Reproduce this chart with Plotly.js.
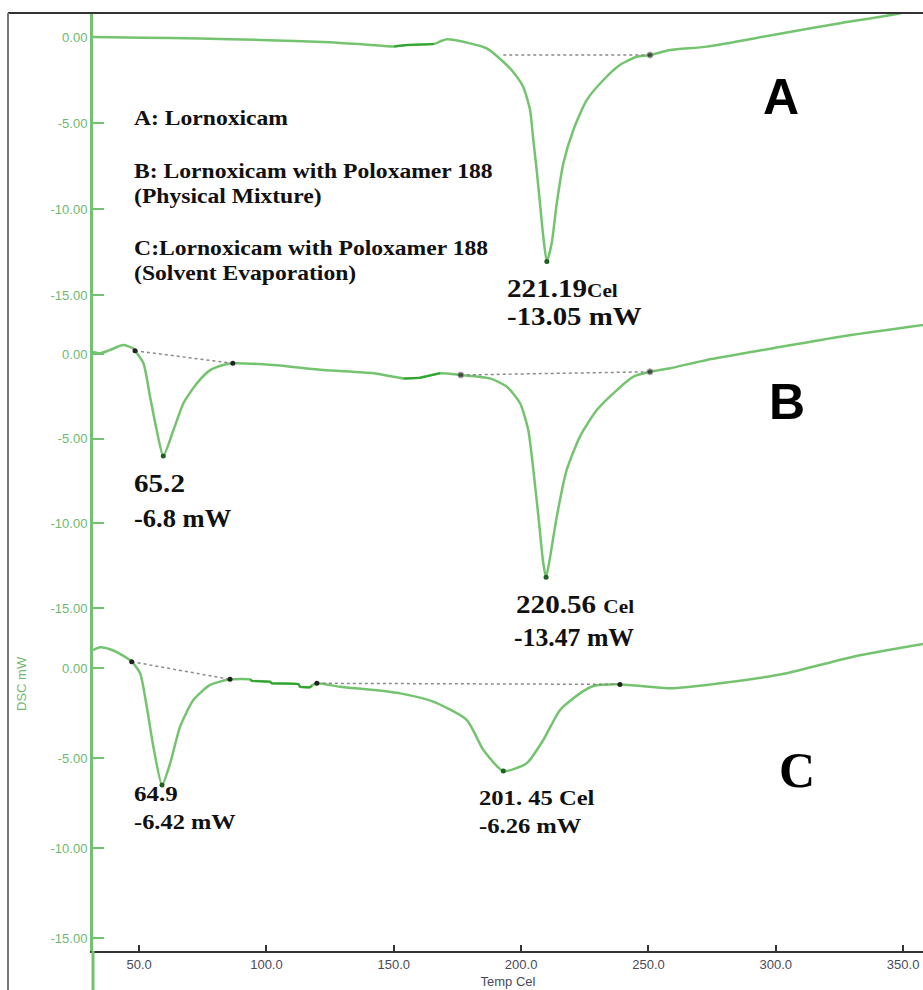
<!DOCTYPE html>
<html>
<head>
<meta charset="utf-8">
<script src="https://cdn.plot.ly/plotly-3.0.1.min.js"></script>
<style>
html,body{margin:0;padding:0;background:#fff;}
#chart{width:923px;height:990px;}
</style>
</head>
<body>
<div id="chart"></div>
<script>
// ---- Data (temperature in Cel, heat flow in mW) ----
const xTickVals = [50, 100, 150, 200, 250, 300, 350];
const xTickText = ["50.0", "100.0", "150.0", "200.0", "250.0", "300.0", "350.0"];
const yTickVals = [0, -5, -10, -15];
const yTickText = ["0.00", "-5.00", "-10.00", "-15.00"];

// A: Lornoxicam
const tempA = [31.9, 51.6, 74.0, 97.5, 125.0, 139.9, 150.1, 155.2, 165.8, 168.8, 170.9, 180.0, 186.5, 193.0, 196.8, 200.8, 203.5, 204.8, 206.1, 207.4, 208.7, 210.1, 212.0, 214.0, 216.6, 220.5, 225.8, 232.3, 238.8, 245.4, 250.6, 258.5, 272.9, 298.9, 325.2, 348.8, 357.8];
const dscA  = [0.00, -0.04, -0.09, -0.17, -0.30, -0.45, -0.55, -0.46, -0.40, -0.22, -0.13, -0.37, -0.66, -1.44, -2.02, -2.89, -4.24, -5.99, -7.73, -9.65, -11.60, -13.05, -11.99, -9.67, -7.34, -5.41, -3.66, -2.50, -1.63, -1.15, -1.05, -0.76, -0.56, 0.12, 0.80, 1.38, 1.80];
const baseTempA = [193.0, 250.6];
const baseDscA  = [-1.05, -1.05];

// B: physical mixture
const tempB = [31.9, 34.7, 38.6, 43.7, 47.6, 48.4, 51.7, 54.3, 56.9, 59.5, 63.5, 67.4, 72.7, 77.9, 83.1, 86.8, 102.7, 122.4, 142.0, 153.8, 160.3, 168.2, 176.3, 187.8, 194.4, 199.6, 202.8, 204.8, 206.8, 208.7, 209.8, 211.4, 214.0, 217.9, 223.1, 229.7, 237.6, 244.1, 250.6, 258.5, 272.9, 299.0, 325.2, 357.8];
const dscB  = [0.12, 0.04, 0.24, 0.53, 0.34, 0.19, -0.55, -2.52, -4.49, -6.02, -4.49, -2.91, -1.73, -0.95, -0.65, -0.55, -0.65, -0.95, -1.14, -1.44, -1.40, -1.14, -1.24, -1.44, -1.93, -2.91, -4.49, -6.85, -9.61, -12.36, -13.19, -11.97, -9.61, -6.85, -4.88, -3.31, -2.13, -1.34, -1.05, -0.84, -0.35, 0.34, 1.02, 1.71];
const baseTempB1 = [48.4, 86.8];
const baseDscB1  = [0.19, -0.55];
const baseTempB2 = [176.3, 250.6];
const baseDscB2  = [-1.24, -1.05];

// C: solvent evaporation
const tempC = [32.0, 34.7, 38.6, 42.5, 47.1, 50.4, 53.0, 55.6, 59.0, 62.2, 66.1, 71.3, 77.9, 85.7, 93.6, 94.2, 101.4, 102.1, 112.5, 113.2, 117.1, 117.8, 119.8, 128.9, 142.0, 152.5, 165.5, 178.7, 185.2, 193.0, 202.2, 208.7, 215.3, 223.1, 228.4, 238.8, 250.6, 258.5, 278.1, 304.3, 330.4, 357.8];
const dscC  = [1.00, 1.15, 1.04, 0.78, 0.35, -0.29, -2.15, -4.37, -6.50, -5.29, -3.26, -1.78, -0.94, -0.63, -0.63, -0.71, -0.76, -0.85, -0.89, -1.04, -1.07, -0.98, -0.85, -1.04, -1.22, -1.41, -1.87, -2.89, -4.56, -5.72, -5.29, -4.00, -2.33, -1.41, -1.00, -0.91, -1.04, -1.13, -0.85, -0.29, 0.63, 1.33];
const baseTempC1 = [47.1, 85.7];
const baseDscC1  = [0.35, -0.63];
const baseTempC2 = [119.8, 238.8];
const baseDscC2  = [-0.85, -0.91];

// darker (step) segments of each trace, by temperature range
const darkRangeA = [150.1, 165.8];
const darkRangeB = [153.8, 168.2];
const darkRangeC = [93.6, 117.8];

// ---- helpers ----
const W = 923, H = 990, L = 93, R = 0, T = 13, B = 39;
const PW = W - L - R, PH = H - T - B;
const px = x => (x - L) / PW;
const py = y => (H - B - y) / PH;

const lightGreen = '#74c46f';
const darkGreen = '#2fa52f';
const axisGreen = '#72c272';

function subset(t, v, r) {
  const xs = [], ys = [];
  t.forEach((tt, i) => { if (tt >= r[0] && tt <= r[1]) { xs.push(tt); ys.push(v[i]); } });
  return {x: xs, y: ys};
}
function peak(t, v, lo, hi) {
  let best = null;
  t.forEach((tt, i) => { if (tt >= lo && tt <= hi && (best === null || v[i] < v[best])) best = i; });
  return best;
}

const traces = [];
function addCurve(t, v, yax, dark) {
  traces.push({x: t, y: v, xaxis: 'x', yaxis: yax, mode: 'lines', line: {color: lightGreen, width: 2.5, shape: 'spline', smoothing: 0.6}, hoverinfo: 'skip'});
  const d = subset(t, v, dark);
  traces.push({x: d.x, y: d.y, xaxis: 'x', yaxis: yax, mode: 'lines', line: {color: darkGreen, width: 2}, hoverinfo: 'skip'});
}
function addBase(t, v, yax, sizes) {
  traces.push({x: t, y: v, xaxis: 'x', yaxis: yax, mode: 'lines+markers', line: {color: '#8a8a8a', width: 1.5, dash: 'dot'}, marker: {color: '#222', size: sizes || 5}, hoverinfo: 'skip'});
}
function addPeak(t, v, yax, lo, hi) {
  const i = peak(t, v, lo, hi);
  traces.push({x: [t[i]], y: [v[i]], xaxis: 'x', yaxis: yax, mode: 'markers', marker: {color: '#1f5f1f', size: 5}, hoverinfo: 'skip'});
}

addCurve(tempA, dscA, 'y', darkRangeA);
addBase(baseTempA, baseDscA, 'y', [0, 6]);
addPeak(tempA, dscA, 'y', 180, 250);

addCurve(tempB, dscB, 'y2', darkRangeB);
addBase(baseTempB1, baseDscB1, 'y2');
addBase(baseTempB2, baseDscB2, 'y2', [6, 6]);
addPeak(tempB, dscB, 'y2', 40, 100);
addPeak(tempB, dscB, 'y2', 180, 250);

addCurve(tempC, dscC, 'y3', darkRangeC);
addBase(baseTempC1, baseDscC1, 'y3');
addBase(baseTempC2, baseDscC2, 'y3');
addPeak(tempC, dscC, 'y3', 40, 100);
addPeak(tempC, dscC, 'y3', 170, 240);

function yAxis(domain, range) {
  return {
    domain: domain, range: range, anchor: 'x',
    showline: true, linecolor: axisGreen, linewidth: 3,
    ticks: 'inside', ticklen: 11, tickwidth: 2, tickcolor: axisGreen,
    tickvals: yTickVals, ticktext: yTickText,
    tickfont: {family: 'Liberation Sans, Arial', size: 13, color: '#6fb86f'},
    showgrid: false, zeroline: false, fixedrange: true
  };
}

const serif = 'Liberation Serif, Times New Roman, serif';
// each label: [x px, y px, text, font size, horizontal stretch]
const labelDefs = [
  [132, 118, 'A: Lornoxicam', 20, 1.18],
  [132, 171, 'B: Lornoxicam with Poloxamer 188', 20, 1.18],
  [132, 197, '(Physical Mixture)', 20, 1.18],
  [132, 248, 'C:Lornoxicam with Poloxamer 188', 20, 1.18],
  [132, 274, '(Solvent Evaporation)', 20, 1.18],
  [505, 288, '221.19<span style="font-size:19px">Cel</span>', 26, 1.12],
  [505, 316, '-13.05 mW', 26, 1.11],
  [132, 483, '65.2', 26, 1.12],
  [132, 518, '-6.8 mW', 26, 1.02],
  [514, 605, '220.56 <span style="font-size:19px">Cel</span>', 26, 1.12],
  [512, 637, '-13.47 mW', 26, 0.99],
  [132, 794, '64.9', 20, 1.25],
  [132, 822, '-6.42 mW', 20, 1.22],
  [477, 798, '201. 45 Cel', 20, 1.23],
  [477, 826, '-6.26 mW', 20, 1.23]
];

const annotations = labelDefs.map(d => ({
  xref: 'paper', yref: 'paper', x: px(d[0]), y: py(d[1]), xanchor: 'left', yanchor: 'middle',
  text: d[2], showarrow: false,
  font: {family: serif, size: d[3], color: '#111', weight: 'bold'}
}));
const stretch = labelDefs.map(d => d[4]);

annotations.push(
  {xref: 'paper', yref: 'paper', x: px(781), y: py(97), xanchor: 'center', yanchor: 'middle', text: 'A', showarrow: false,
   font: {family: 'Liberation Sans, Arial', size: 50, color: '#000', weight: 'bold'}},
  {xref: 'paper', yref: 'paper', x: px(787), y: py(402), xanchor: 'center', yanchor: 'middle', text: 'B', showarrow: false,
   font: {family: 'Liberation Sans, Arial', size: 50, color: '#000', weight: 'bold'}},
  {xref: 'paper', yref: 'paper', x: px(797), y: py(770), xanchor: 'center', yanchor: 'middle', text: 'C', showarrow: false,
   font: {family: serif, size: 50, color: '#000', weight: 'bold'}},
  {xref: 'paper', yref: 'paper', x: px(21), y: py(684), xanchor: 'center', yanchor: 'middle', text: 'DSC mW', textangle: -90, showarrow: false,
   font: {family: 'Liberation Sans Narrow, Liberation Sans, Arial', size: 13, color: '#6fb86f'}}
);

const shapes = [
  {type: 'line', xref: 'paper', yref: 'paper', x0: px(8), x1: px(923), y0: py(13), y1: py(13), line: {color: '#333', width: 2}},
  {type: 'line', xref: 'paper', yref: 'paper', x0: px(8), x1: px(8), y0: py(13), y1: py(990), line: {color: '#7a7a7a', width: 2}},
  {type: 'line', xref: 'paper', yref: 'paper', x0: px(93), x1: px(93), y0: py(951), y1: py(990), line: {color: axisGreen, width: 3}}
];

const tickFontX = {family: 'Liberation Sans Narrow, Liberation Sans, Arial', size: 13, color: '#4a4a5a'};

const layout = {
  width: W, height: H,
  margin: {l: L, r: R, t: T, b: B},
  paper_bgcolor: '#fff', plot_bgcolor: 'rgba(0,0,0,0)',
  showlegend: false,
  xaxis: {
    anchor: 'y3', range: [31.9, 357.8],
    tickvals: xTickVals, ticktext: xTickText,
    ticks: 'inside', ticklen: 6, tickwidth: 2, tickcolor: '#333',
    showline: true, linecolor: '#333', linewidth: 2,
    tickfont: tickFontX,
    title: {text: 'Temp Cel', font: {family: 'Liberation Sans Narrow, Liberation Sans, Arial', size: 13, color: '#4a4a5a'}, standoff: 6},
    showgrid: false, zeroline: false, fixedrange: true
  },
  yaxis: yAxis([py(318), 1], [(37 - 318) / 17.2, (37 - 13) / 17.2]),
  yaxis2: yAxis([py(636), py(318)], [(354 - 636) / 16.93, (354 - 318) / 16.93]),
  yaxis3: yAxis([0, py(636)], [(668 - 951) / 18, (668 - 636) / 18]),
  annotations: annotations,
  shapes: shapes
};

Plotly.newPlot('chart', traces, layout, {displayModeBar: false, staticPlot: true}).then(gd => {
  // widen the serif labels horizontally, as in the stretched original figure
  gd.querySelectorAll('g.annotation').forEach(g => {
    const idx = +g.getAttribute('data-index');
    const s = stretch[idx];
    if (!s) return;
    const t = g.querySelector('text.annotation-text');
    if (!t) return;
    const bb = t.getBBox();
    const prev = t.getAttribute('transform') || '';
    t.setAttribute('transform', prev + ' translate(' + bb.x + ',0) scale(' + s + ',1) translate(' + (-bb.x) + ',0)');
  });
});
</script>
</body>
</html>
